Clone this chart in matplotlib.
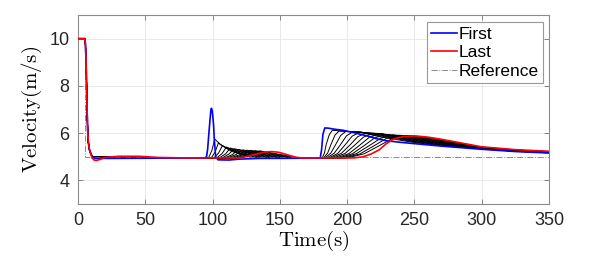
#!/usr/bin/env python
# -*- coding: utf-8 -*-
"""Platoon velocity profiles: first, last and intermediate vehicles"""

import matplotlib
matplotlib.use("Agg")
import matplotlib.pyplot as plt

# ---- data -----------------------------------------------------------------
# shared start: every vehicle starts at 10 m/s and drops to ~5 m/s
drop_t = [0, 5, 5.5, 6.0, 6.4, 6.8, 7.2, 7.7, 8.5, 9.7]
drop_v = [10, 10, 9.8, 9.0, 8.0, 6.9, 6.1, 5.6, 5.3, 5.1]

# first vehicle (blue)
first_t = [11, 13, 20, 60, 94, 95.5, 96.3, 97, 97.7, 98.3, 98.8, 99.2, 99.7,
           100.2, 100.8, 101.2, 102.3, 104, 112, 120, 135, 180,
           181, 182, 183.4, 186, 190, 197, 205, 215, 222, 229, 238, 249,
           270, 299, 325, 350]
first_v = [4.96, 4.93, 4.93, 4.94, 4.94, 5.0, 5.3, 5.8, 6.3, 6.7, 7.0, 7.05,
           6.95, 6.7, 6.3, 5.8, 5.0, 4.87, 4.86, 4.9, 4.93, 4.94,
           5.3, 5.95, 6.22, 6.21, 6.17, 6.12, 6.02, 5.88, 5.76, 5.68, 5.62,
           5.56, 5.45, 5.32, 5.22, 5.16]

# last vehicle (red)
last_t = [10.5, 12, 13.5, 16, 20, 30, 45, 60, 80, 118,
          122, 128, 133, 138, 143.8, 149, 154, 158, 162, 166, 205,
          212, 218, 224, 229, 235, 242, 251, 260, 270, 285, 300, 325, 350]
last_v = [4.95, 4.86, 4.84, 4.88, 4.97, 5.02, 5.02, 4.97, 4.95, 4.95,
          4.97, 5.05, 5.12, 5.19, 5.22, 5.19, 5.11, 5.04, 4.98, 4.95, 4.95,
          5.0, 5.12, 5.3, 5.55, 5.76, 5.86, 5.88, 5.83, 5.74, 5.58, 5.42,
          5.3, 5.23]

# intermediate vehicles (black): settling after the drop
mid_early_t = [11, 13, 18, 30, 45, 60]
mid_early_v = [5.0, 4.98, 5.0, 5.0, 4.98, 4.95]

# intermediate vehicles: first disturbance (around t = 100 s)
mid_ev1_t = [
    [97, 99.5, 101.6, 106, 114, 130],
    [99, 101.9, 104.3, 109.5, 118, 134],
    [101, 104.5, 107.3, 113, 122, 138],
    [103, 107, 110.3, 116.5, 126, 141],
    [105, 109.6, 113.3, 120, 130, 144],
    [107, 112.1, 116.3, 123.5, 134, 147],
    [109, 114.7, 119.3, 127, 138, 150],
    [111, 117.3, 122.5, 130.5, 141, 153],
    [113, 119.9, 125.5, 134, 144.5, 156],
    [115, 122.4, 128.5, 137, 148, 159],
    [117, 125, 131.5, 140.5, 151, 161],
    [119, 127.8, 135, 144, 154, 164],
]
mid_ev1_v = [
    [4.95, 5.27, 5.75, 5.51, 5.23, 4.95],
    [4.95, 5.20, 5.58, 5.39, 5.17, 4.95],
    [4.95, 5.16, 5.47, 5.31, 5.13, 4.95],
    [4.95, 5.13, 5.41, 5.27, 5.11, 4.95],
    [4.95, 5.12, 5.37, 5.24, 5.10, 4.95],
    [4.95, 5.11, 5.34, 5.22, 5.09, 4.95],
    [4.95, 5.09, 5.31, 5.20, 5.08, 4.95],
    [4.95, 5.09, 5.29, 5.19, 5.07, 4.95],
    [4.95, 5.08, 5.28, 5.18, 5.07, 4.95],
    [4.95, 5.08, 5.27, 5.17, 5.06, 4.95],
    [4.95, 5.07, 5.26, 5.17, 5.06, 4.95],
    [4.95, 5.07, 5.25, 5.16, 5.055, 4.95],
]

# intermediate vehicles: second disturbance (from t = 180 s)
mid_ev2_t = [
    [181.5, 183.15, 184.5, 186.75, 189, 210, 225, 250, 270, 300, 325, 350],
    [182.5, 185.5, 188, 191, 194, 210, 225, 250, 270, 300, 325, 350],
    [183.5, 187.8, 191.4, 195.2, 199, 210, 225, 250, 270, 300, 325, 350],
    [185, 190.4, 194.9, 199.5, 204, 210, 225, 250, 270, 300, 325, 350],
    [186.5, 193, 198.3, 203.7, 209, 225, 250, 270, 300, 325, 350],
    [188, 195.6, 201.8, 207.9, 214, 225, 250, 270, 300, 325, 350],
    [190, 198.4, 205.2, 212.1, 219, 225, 250, 270, 300, 325, 350],
    [192, 201.2, 208.7, 216.4, 224, 250, 270, 300, 325, 350],
    [194, 204, 212.1, 220.5, 229, 250, 270, 300, 325, 350],
    [196, 206.8, 215.6, 224.8, 234, 250, 270, 300, 325, 350],
    [198, 209.5, 219, 229, 239, 250, 270, 300, 325, 350],
    [200, 212.4, 222.5, 233.2, 244, 250, 270, 300, 325, 350],
]
mid_ev2_v = [
    [4.95, 5.16, 5.535, 5.94, 6.12, 6.03, 5.84, 5.60, 5.47, 5.33, 5.23, 5.165],
    [4.95, 5.155, 5.52, 5.92, 6.09, 6.04, 5.88, 5.63, 5.49, 5.34, 5.23, 5.17],
    [4.95, 5.15, 5.51, 5.90, 6.07, 6.045, 5.92, 5.65, 5.51, 5.34, 5.24, 5.175],
    [4.95, 5.15, 5.50, 5.885, 6.05, 6.04, 5.95, 5.68, 5.53, 5.35, 5.25, 5.18],
    [4.95, 5.14, 5.49, 5.87, 6.03, 5.97, 5.70, 5.55, 5.36, 5.25, 5.185],
    [4.95, 5.14, 5.48, 5.85, 6.01, 5.98, 5.73, 5.57, 5.36, 5.26, 5.19],
    [4.95, 5.14, 5.47, 5.83, 5.99, 5.975, 5.75, 5.59, 5.37, 5.26, 5.195],
    [4.95, 5.13, 5.46, 5.82, 5.97, 5.78, 5.61, 5.38, 5.27, 5.20],
    [4.95, 5.13, 5.45, 5.80, 5.95, 5.80, 5.64, 5.38, 5.28, 5.205],
    [4.95, 5.13, 5.44, 5.78, 5.93, 5.83, 5.66, 5.39, 5.28, 5.21],
    [4.95, 5.12, 5.43, 5.77, 5.91, 5.85, 5.69, 5.40, 5.29, 5.215],
    [4.95, 5.12, 5.425, 5.76, 5.90, 5.88, 5.72, 5.41, 5.29, 5.22],
]

# reference speed
ref_t = [0, 5, 5, 350]
ref_v = [10, 10, 5, 5]

x_ticks = [0, 50, 100, 150, 200, 250, 300, 350]
y_ticks = [4, 6, 8, 10]

# ---- plotting ---------------------------------------------------------------
plt.rcParams['font.family'] = ['Liberation Sans', 'DejaVu Sans']
plt.rcParams['mathtext.fontset'] = 'cm'

fig = plt.figure(figsize=(5.98, 2.66), dpi=100)
ax = fig.add_axes([78 / 598, 62 / 266, 471 / 598, 189 / 266])

# intermediate vehicles
for k in range(len(mid_ev1_t)):
    path_t = drop_t + mid_early_t + mid_ev1_t[k] + mid_ev2_t[k]
    path_v = drop_v + mid_early_v + mid_ev1_v[k] + mid_ev2_v[k]
    ax.plot(path_t, path_v, color='k', lw=0.7)

ax.plot(ref_t, ref_v, color='0.55', ls='-.', lw=0.7, label='Reference', zorder=3)
ax.plot(drop_t + first_t, drop_v + first_v, color=(0, 0, 1), lw=1.2,
        label='First', zorder=4)
ax.plot(drop_t + last_t, drop_v + last_v, color=(1, 0, 0), lw=1.2,
        label='Last', zorder=5)

ax.set_xlim(0, 350)
ax.set_ylim(3, 11)
ax.set_xticks(x_ticks)
ax.set_yticks(y_ticks)
ax.grid(True, color='0.9', lw=0.6)
ax.set_axisbelow(True)
for sp in ax.spines.values():
    sp.set_color('0.55')
    sp.set_linewidth(0.8)
ax.tick_params(direction='in', length=3.5, width=0.6, color='0.45',
               labelsize=13, labelcolor='0.15', top=True, right=True, pad=6)

ax.set_xlabel(r'$\mathrm{Time(s)}$', fontsize=15, labelpad=0)
ax.set_ylabel(r'$\mathrm{Velocity(m/s)}$', fontsize=15, labelpad=4)

handles, labels = ax.get_legend_handles_labels()
order = [labels.index('First'), labels.index('Last'), labels.index('Reference')]
leg = ax.legend([handles[i] for i in order], [labels[i] for i in order],
                loc='upper right', bbox_to_anchor=(0.988, 0.962),
                fontsize=12.5, fancybox=False, framealpha=1, edgecolor='0.6',
                borderpad=0.25, labelspacing=0.2, handlelength=1.5,
                handletextpad=0.1, borderaxespad=0)
leg.get_frame().set_linewidth(0.8)

plt.savefig('out.png', dpi=100)
